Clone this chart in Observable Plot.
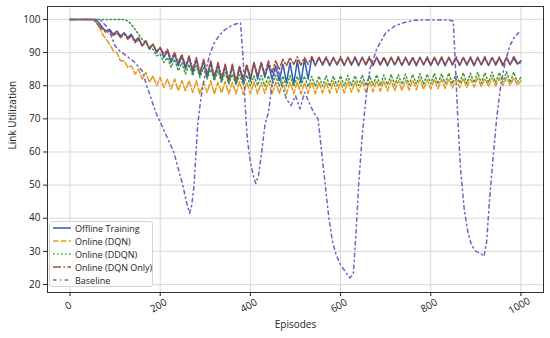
<!DOCTYPE html>
<html><head><meta charset="utf-8">
<script src="https://cdn.jsdelivr.net/npm/d3@7"></script>
<script src="https://cdn.jsdelivr.net/npm/@observablehq/plot@0.6"></script>
<style>
body{margin:0;background:#fff;}
#wrap{position:relative;width:550px;height:338px;font-family:"Open Sans",sans-serif;}
#legend{position:absolute;left:49px;top:221px;width:104px;height:66px;border:1px solid #d4d4d4;border-radius:3px;background:rgba(255,255,255,0.85);font-size:9px;color:#222;box-sizing:border-box;}
.row{position:absolute;left:3px;height:12px;display:flex;align-items:center;white-space:nowrap;}
.row svg{margin-right:4px;}
</style>
</head><body>
<div id="wrap"><div id="chart"></div><div id="legend"></div></div>
<script>
const episodes = [0,8,16,24,32,40,48,56,64,72,
80,88,96,104,112,120,128,136,144,152,
160,168,176,184,192,200,208,216,224,232,
240,248,256,264,272,280,288,296,304,312,
320,328,336,344,352,360,368,376,384,392,
400,408,416,424,432,440,448,456,464,472,
480,488,496,504,512,520,528,536,544,552,
560,568,576,584,592,600,608,616,624,632,
640,648,656,664,672,680,688,696,704,712,
720,728,736,744,752,760,768,776,784,792,
800,808,816,824,832,840,848,856,864,872,
880,888,896,904,912,920,928,936,944,952,
960,968,976,984,992,1000];

const offlineTraining = [100,100,100,100,100,100,100,100,99,97.5,
96.5,97,95.5,96.5,95,96,94.5,95.5,93.5,94.5,
92,93.5,91,92.5,90,91.5,88.5,90.5,87,89.5,
86,89,85,88.5,84,88,83,87.5,82.5,87,
82,86.5,81.5,86,81,86,80.5,85.5,81,86,
81.5,87,82,87,82.5,86.5,82,86,81.5,86.5,
81,87,80.5,87.5,81,88,82,88.5,86,88.5,
86.2,88.4,86,88.6,86.3,88.3,86.1,88.5,86.2,88.4,
86,88.6,86.3,88.3,86.1,88.5,86.2,88.4,86,88.6,
86.3,88.3,86.1,88.5,86.2,88.4,86,88.6,86.3,88.3,
86.1,88.5,86.2,88.4,86,88.6,86.3,88.3,86.1,88.5,
86.2,88.4,86,88.6,86.3,88.3,86.1,88.5,86.2,88.4,
86,88.6,86.3,88.3,86.5,87.5];

const onlineDQN = [100,100,100,100,100,100,100,99.5,98,95.5,
94,92.5,90.5,90,87.5,87.5,85.5,86,83.5,85,
82,84,81,83,80,82.5,79.5,82,79,82,
78.5,81.5,78.5,81.5,78,81.5,77.5,81,78,81.5,
77.5,81,77.8,81.3,77.5,81,77.6,81.2,77.4,81,
77.6,81.2,77.5,81,77.7,81.3,77.4,81,77.6,81.2,
77.5,81,77.6,81.1,77.5,81,77.7,81.2,77.6,81.1,
77.8,81.2,77.7,81.3,77.9,81.2,77.8,81.4,78,81.3,
78.1,81.5,78,81.4,78.2,81.6,78.3,81.5,78.4,81.7,
78.5,81.6,78.6,81.8,78.7,81.7,78.8,81.9,78.9,81.8,
79,82,79.1,81.9,79.2,82.1,79.3,82,79.4,82.2,
79.5,82.1,79.6,82.3,79.7,82.2,79.8,82.4,79.9,82.3,
80,82.5,80.1,82.4,80.2,81.5];

const onlineDDQN = [100,100,100,100,100,100,100,100,100,100,
100,100,100,100,100,100,99.5,98.5,97,95.5,
94,93,91.5,91,89,89.5,87,88.5,85.5,88,
84.5,87,83.5,86.5,83,86,82.5,85.5,82,85,
81.5,84.5,81,84,80.5,83.5,80.3,83.3,80.2,83.2,
80,83,80.1,83.1,79.9,83,80,83.1,79.8,82.9,
79.9,83,79.8,82.8,79.9,82.9,79.7,82.8,79.8,82.9,
79.9,83,79.8,82.9,80,83,79.9,83.1,80,83,
80.1,83.2,80,83.1,80.2,83.3,80.1,83.2,80.3,83.4,
80.2,83.3,80.4,83.5,80.3,83.4,80.5,83.6,80.4,83.5,
80.6,83.7,80.5,83.6,80.7,83.8,80.6,83.7,80.8,83.9,
80.7,83.8,80.9,84,80.8,83.9,81,84.1,80.9,84,
81.1,84.2,81,84.1,81.2,82.5];

const onlineDQNOnly = [100,100,100,100,100,100,100,99.5,98,97,
96,96.5,95,96,94.5,95.5,94,95,93,94,
92,93.5,91.5,92.5,90.5,91.5,89.5,91,88,90,
87,89.5,86,89,85,88.5,84,88,83.5,87.5,
83,87,82.5,86.5,82,86.5,81.5,86,82,86.5,
82.5,87,83,87,83.5,87.5,84,87.5,85,88,
86,88.5,86.4,88.7,86.2,88.5,86.4,88.8,86.3,88.6,
86.5,88.7,86.3,88.5,86.4,88.8,86.2,88.6,86.5,88.7,
86.3,88.5,86.4,88.8,86.2,88.6,86.5,88.7,86.3,88.5,
86.4,88.8,86.2,88.6,86.5,88.7,86.3,88.5,86.4,88.8,
86.2,88.6,86.5,88.7,86.3,88.5,86.4,88.8,86.2,88.6,
86.5,88.7,86.3,88.5,86.4,88.8,86.2,88.6,86.5,88.7,
86.3,88.5,86.4,88.8,87,86.8];

const baselineEpisodes = [0,10,20,30,40,50,60,70,80,90,
100,110,120,130,140,150,160,170,180,190,
200,210,220,230,240,250,258,265,270,275,
283,290,300,310,320,330,340,350,360,370,
378,384,388,393,400,408,412,418,425,432,
440,450,460,470,480,490,500,510,520,530,
540,550,558,566,574,582,590,600,610,620,
628,634,640,648,656,665,680,700,720,740,
760,780,800,820,840,850,855,860,866,874,
882,890,900,910,918,924,930,938,946,955,
965,975,985,995];
const baselineValues = [100,100,100,100,100,100,100,99.5,98,95.5,
92,90.5,89.5,88.5,87.5,86,84.5,80,76,72,
69,66,63,60,55,50,45,41.5,44,50,
68,76,84,89.5,93,95,96.5,97.5,98.3,98.7,
99,88,75,64,57,52,50.5,53,60,68,
72,82,86,80,76,74,77,73,78,75,
72,70,60,50,40,33,29,26,24,22,
23,35,50,65,76,85,91,96,98,99,
99.7,99.8,99.8,99.8,99.8,99.5,85,70,55,43,
36,32,30,29.5,28.5,33,45,58,70,80,
87,92,94.5,96];

const yTicks = [20,30,40,50,60,70,80,90,100];
const xTicks = [0,200,400,600,800,1000];

const seriesNames = ["Offline Training","Online (DQN)","Online (DDQN)","Online (DQN Only)","Baseline"];
const colors = ["#2f5db5","#e39a1b","#3c9a3c","#a84a35","#6f63c0"];
const dashes = [null,"5.5,2.4","1.5,2.5","8,2.4,1.5,2.4","3.5,3.5,1.3,3.5"];

const seriesValues = [offlineTraining, onlineDQN, onlineDDQN, onlineDQNOnly];
const lineMarks = seriesValues.map((vals,k) =>
  Plot.line(episodes.map((e,i)=>({x:e,y:vals[i]})), {x:"x", y:"y", stroke: colors[k], strokeWidth:1.5, strokeDasharray: dashes[k]}));
lineMarks.push(Plot.line(baselineEpisodes.map((e,i)=>({x:e,y:baselineValues[i]})), {x:"x",y:"y",stroke:colors[4],strokeWidth:1.5,strokeDasharray:dashes[4]}));

const chart = Plot.plot({
  width:550, height:338,
  marginLeft:47, marginRight:7, marginTop:6, marginBottom:46,
  style:{fontFamily:"'Open Sans', sans-serif", fontSize:"10px", color:"#222", background:"#fff"},
  x:{domain:[-50,1050]},
  y:{domain:[17.6,103.9]},
  marks:[
    Plot.gridX(xTicks,{stroke:"#cfcfcf", strokeOpacity:0.8}),
    Plot.gridY(yTicks,{stroke:"#cfcfcf", strokeOpacity:0.8}),
    ...lineMarks,
    Plot.frame({stroke:"#333", strokeWidth:1}),
    Plot.axisY(yTicks,{tickSize:4, tickPadding:3, label:null, fontSize:10}),
    Plot.axisX(xTicks,{tickSize:4, tickFormat:()=>"", label:null}),
    Plot.text(xTicks,{x:d=>d, frameAnchor:"bottom", dy:16, rotate:-30, text:d=>String(d), fontSize:10}),
    Plot.text(["Episodes"],{frameAnchor:"bottom", dy:35, text:d=>d, fontSize:10}),
    Plot.text(["Link Utilization"],{frameAnchor:"left", dx:-35, rotate:-90, text:d=>d, fontSize:10})
  ]
});
document.getElementById("chart").appendChild(chart);

const legend = document.getElementById("legend");
const rowCenters = [6,19,32,45,58];
seriesNames.forEach((name,k)=>{
  const row = document.createElement("div");
  row.className = "row";
  row.style.top = (rowCenters[k]-6)+"px";
  const da = dashes[k] ? ` stroke-dasharray="${dashes[k]}"` : "";
  row.innerHTML = `<svg width="18" height="6"><line x1="0" y1="3" x2="18" y2="3" stroke="${colors[k]}" stroke-width="1.5"${da}/></svg><span>${name}</span>`;
  legend.appendChild(row);
});
</script>
</body></html>
